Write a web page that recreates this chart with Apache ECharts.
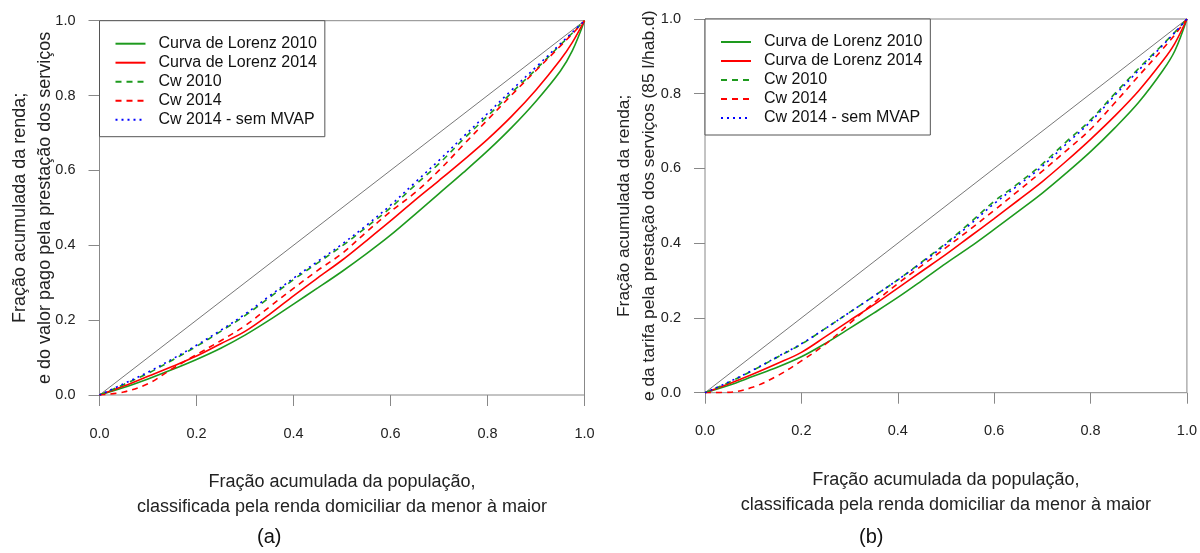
<!DOCTYPE html>
<html>
<head>
<meta charset="utf-8">
<script src="https://cdn.jsdelivr.net/npm/echarts@6/dist/echarts.min.js"></script>
<style>
html,body{margin:0;padding:0;background:#fff;}
#chart{width:1200px;height:553px;}
</style>
</head>
<body>
<div id="chart"></div>
<script>
// ---- data ----
const popFrac = [0, 0.05, 0.1, 0.15, 0.2, 0.25, 0.3, 0.35, 0.4, 0.45, 0.5, 0.55, 0.6, 0.65, 0.7, 0.75, 0.8, 0.85, 0.9, 0.95, 0.975, 1];
const tickLabels = ['0.0', '0.2', '0.4', '0.6', '0.8', '1.0'];
const seriesNames = ['Curva de Lorenz 2010', 'Curva de Lorenz 2014', 'Cw 2010', 'Cw 2014', 'Cw 2014 - sem MVAP'];

// panel (a)
const a_lorenz2010 = [0, 0.02, 0.043, 0.068, 0.095, 0.125, 0.16, 0.2, 0.243, 0.286, 0.33, 0.377, 0.427, 0.482, 0.538, 0.594, 0.652, 0.715, 0.785, 0.865, 0.92, 1];
const a_lorenz2014 = [0, 0.024, 0.05, 0.076, 0.104, 0.137, 0.17, 0.215, 0.265, 0.313, 0.36, 0.412, 0.465, 0.52, 0.573, 0.627, 0.683, 0.745, 0.815, 0.895, 0.942, 1];
const a_cw2010 = [0, 0.028, 0.058, 0.093, 0.13, 0.17, 0.212, 0.26, 0.308, 0.353, 0.398, 0.448, 0.5, 0.56, 0.618, 0.683, 0.745, 0.808, 0.87, 0.935, 0.967, 1];
const a_cw2014 = [0, 0.008, 0.03, 0.07, 0.108, 0.145, 0.185, 0.235, 0.285, 0.333, 0.378, 0.435, 0.49, 0.54, 0.6, 0.668, 0.735, 0.802, 0.867, 0.932, 0.965, 1];
const a_cw2014semMVAP = [0, 0.03, 0.061, 0.096, 0.133, 0.173, 0.216, 0.264, 0.312, 0.357, 0.403, 0.453, 0.507, 0.567, 0.627, 0.69, 0.752, 0.815, 0.876, 0.938, 0.969, 1];

// panel (b)
const b_lorenz2010 = [0, 0.02, 0.044, 0.068, 0.096, 0.132, 0.172, 0.213, 0.255, 0.3, 0.346, 0.39, 0.437, 0.485, 0.534, 0.588, 0.645, 0.708, 0.777, 0.862, 0.915, 1];
const b_lorenz2014 = [0, 0.024, 0.05, 0.078, 0.108, 0.15, 0.193, 0.235, 0.28, 0.325, 0.37, 0.418, 0.466, 0.515, 0.565, 0.62, 0.678, 0.74, 0.808, 0.888, 0.935, 1];
const b_cw2010 = [0, 0.028, 0.06, 0.095, 0.13, 0.172, 0.215, 0.258, 0.302, 0.35, 0.4, 0.455, 0.512, 0.56, 0.612, 0.672, 0.73, 0.8, 0.868, 0.932, 0.965, 1];
const b_cw2014 = [0, 0.001, 0.015, 0.045, 0.085, 0.13, 0.185, 0.24, 0.292, 0.34, 0.388, 0.437, 0.488, 0.54, 0.593, 0.648, 0.705, 0.775, 0.848, 0.92, 0.958, 1];
const b_cw2014semMVAP = [0, 0.029, 0.061, 0.096, 0.131, 0.172, 0.215, 0.258, 0.302, 0.348, 0.397, 0.45, 0.506, 0.555, 0.606, 0.666, 0.725, 0.795, 0.863, 0.93, 0.964, 1];

const equality = [[0, 0], [1, 1]];

const yTitleA = 'Fração acumulada da renda;\ne do valor pago pela prestação dos serviços';
const yTitleB = 'Fração acumulada da renda;\ne da tarifa pela prestação dos serviços (85 l/hab.d)';
const xTitle = 'Fração acumulada da população,\nclassificada pela renda domiciliar da menor à maior';
const panelLabels = ['(a)', '(b)'];

// ---- chart ----
const FONT = "'Liberation Sans', Arial, sans-serif";
const GREEN = '#1e9a1e', RED = '#ff0000', BLUE = '#0000ff';
const styles = [
  {color: GREEN, type: 'solid'},
  {color: RED, type: 'solid'},
  {color: GREEN, type: [6, 5]},
  {color: RED, type: [6, 5]},
  {color: BLUE, type: [2, 4]}
];
const panels = [
  [a_lorenz2010, a_lorenz2014, a_cw2010, a_cw2014, a_cw2014semMVAP],
  [b_lorenz2010, b_lorenz2014, b_cw2010, b_cw2014, b_cw2014semMVAP]
];
const pair = ys => popFrac.map((x, i) => [x, ys[i]]);

function makeAxis(idx, isX, name, nameSize, gap) {
  return {
    type: 'value', gridIndex: idx, min: 0, max: 1, interval: 0.2,
    axisLine: {show: false},
    axisTick: {show: true, length: 11, lineStyle: {color: '#888', width: 1}},
    splitLine: {show: false},
    axisLabel: {
      formatter: v => tickLabels[Math.round(v * 5)],
      color: '#222', fontFamily: FONT, fontSize: 14.5,
      margin: isX ? 31 : 24
    },
    name: name, nameLocation: 'middle',
    nameGap: gap,
    nameMoveOverlap: false,
    nameTextStyle: {color: '#222', fontFamily: FONT, fontSize: nameSize, lineHeight: 25}
  };
}

const series = [];
panels.forEach((curves, p) => {
  series.push({
    type: 'line', name: 'igualdade', xAxisIndex: p, yAxisIndex: p,
    data: equality, showSymbol: false, symbol: 'none', silent: true,
    lineStyle: {color: '#777', width: 1}
  });
  curves.forEach((ys, k) => {
    series.push({
      type: 'line', name: seriesNames[k], xAxisIndex: p, yAxisIndex: p,
      data: pair(ys), symbol: 'none', showSymbol: false,
      smooth: 0.35,
      lineStyle: {color: styles[k].color, type: styles[k].type, width: 1.6},
      itemStyle: {color: styles[k].color}
    });
  });
});

function makeLegend(left, top) {
  return {
    data: seriesNames, orient: 'vertical', left: left, top: top,
    itemWidth: 30, itemHeight: 14, itemGap: 3,
    padding: [15, 8, 9, 15],
    backgroundColor: '#fff', borderColor: '#555', borderWidth: 1,
    selectedMode: false,
    itemStyle: {opacity: 0},
    textStyle: {color: '#111', fontFamily: FONT, fontSize: 16, lineHeight: 14, padding: [0, 0, 0, 8]}
  };
}

const chart = echarts.init(document.getElementById('chart'), null, {renderer: 'canvas'});
chart.setOption({
  animation: false,
  backgroundColor: '#fff',
  grid: [
    {left: 99.5, top: 20.7, width: 485, height: 374.3, show: true, borderColor: '#888', borderWidth: 1, backgroundColor: 'transparent'},
    {left: 705, top: 19, width: 484, height: 373.7, show: true, borderColor: '#888', borderWidth: 1, backgroundColor: 'transparent'}
  ],
  xAxis: [makeAxis(0, true, xTitle, 18, 75), makeAxis(1, true, xTitle, 18, 75)],
  yAxis: [makeAxis(0, false, yTitleA, 18, 42), makeAxis(1, false, yTitleB, 17.4, 43)],
  legend: [makeLegend(99.5, 20.7), makeLegend(705, 19)],
  series: series,
  graphic: [
    {type: 'text', left: 257, top: 527, style: {text: panelLabels[0], fontFamily: FONT, fontSize: 20, fill: '#111'}},
    {type: 'text', left: 859, top: 527, style: {text: panelLabels[1], fontFamily: FONT, fontSize: 20, fill: '#111'}}
  ]
});
</script>
</body>
</html>
